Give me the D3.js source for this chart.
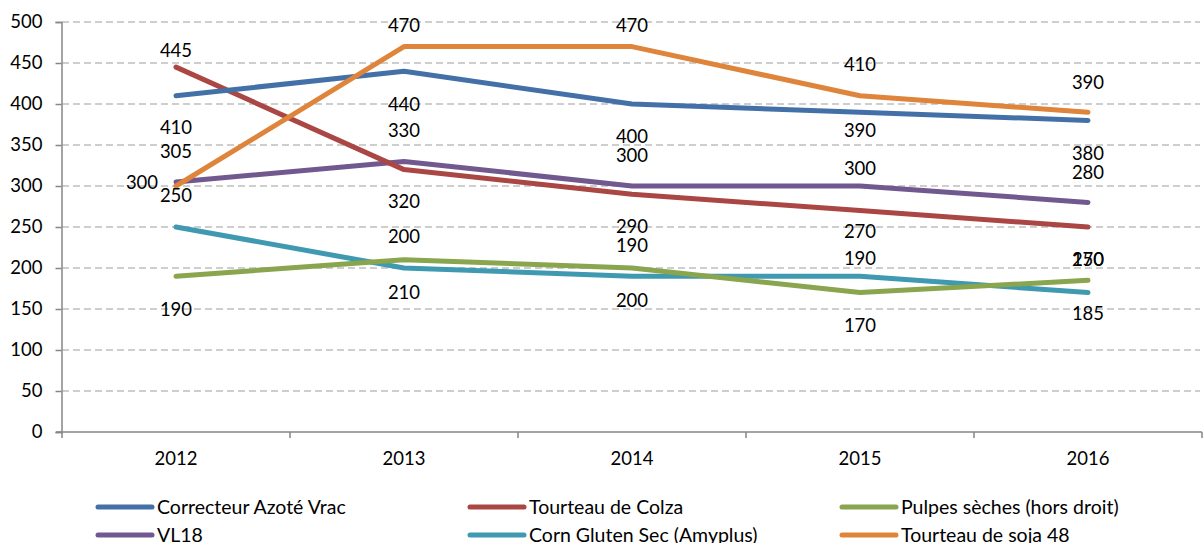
<!DOCTYPE html>
<html>
<head>
<meta charset="utf-8">
<script src="https://cdn.jsdelivr.net/npm/d3@7"></script>
<style>
  html, body { margin: 0; padding: 0; background: #fff; }
  svg { display: block; }
  text { font-family: Lato, "Open Sans", sans-serif; fill: #000; }
</style>
</head>
<body>
<svg id="chart" width="1204" height="543"></svg>
<script>
// Years on the horizontal axis
const years = ["2012", "2013", "2014", "2015", "2016"];

// Price series (one array per product)
const correcteurAzote = [410, 440, 400, 390, 380];
const tourteauColza   = [445, 320, 290, 270, 250];
const pulpesSeches    = [190, 210, 200, 170, 185];
const vl18            = [305, 330, 300, 300, 280];
const cornGluten      = [250, 200, 190, 190, 170];
const tourteauSoja    = [300, 470, 470, 410, 390];

// Y-axis tick values
const yTicks = [0, 50, 100, 150, 200, 250, 300, 350, 400, 450, 500];

// Label placement per point: vertical offset (px) from the point, and horizontal shift
const labelDy = {
  correcteur: [32, 33, 33, 18, 33],
  colza:      [-17, 32, 32, 21, 33],
  pulpes:     [33, 33, 33, 33, 33],
  vl18:       [-30, -31, -30, -17, -30],
  corn:       [-31, -31, -31, -18, -33],
  soja:       [-3, -21, -21, -31, -30]
};
const labelDx = { soja: [-34, 0, 0, 0, 0] };

const series = [
  { key: "correcteur", name: "Correcteur Azoté Vrac",       values: correcteurAzote, color: "#4470A8" },
  { key: "colza",      name: "Tourteau de Colza",           values: tourteauColza,   color: "#AA4643" },
  { key: "pulpes",     name: "Pulpes sèches (hors droit)",  values: pulpesSeches,    color: "#89A54E" },
  { key: "vl18",       name: "VL18",                        values: vl18,            color: "#71588F" },
  { key: "corn",       name: "Corn Gluten Sec (Amyplus)",   values: cornGluten,      color: "#3F99B1" },
  { key: "soja",       name: "Tourteau de soja 48",         values: tourteauSoja,    color: "#DF843B" }
];

// Draw order (later on top)
const drawOrder = ["corn", "pulpes", "vl18", "colza", "correcteur", "soja"];

const svg = d3.select("#chart");
const margin = { left: 62, right: 1202, top: 22, bottom: 432 };

const x = d3.scaleBand().domain(years).range([margin.left, margin.right]).padding(0);
const y = d3.scaleLinear().domain([0, 500]).range([margin.bottom, margin.top]);
const cx = d => x(d) + x.bandwidth() / 2;

// Horizontal dashed gridlines
svg.append("g")
  .selectAll("line")
  .data(yTicks.filter(v => v > 0))
  .join("line")
  .attr("x1", margin.left).attr("x2", 1200)
  .attr("y1", d => y(d)).attr("y2", d => y(d))
  .attr("stroke", "#BFBFBF").attr("stroke-width", 1.3)
  .attr("stroke-dasharray", "7,4");

// Y axis
const yAxis = svg.append("g")
  .attr("transform", `translate(${margin.left - 0.5},0)`)
  .call(d3.axisLeft(y).tickValues(yTicks).tickSize(6).tickPadding(13).tickFormat(d3.format("d")));
yAxis.select(".domain").attr("stroke", "#868686").attr("stroke-width", 1.5);
yAxis.selectAll(".tick line").attr("stroke", "#868686").attr("stroke-width", 1.5);
yAxis.selectAll(".tick text").attr("font-size", 18.5).style("font-family", "Lato, sans-serif");

// X axis with ticks at band boundaries
const xg = svg.append("g").attr("transform", `translate(0,${margin.bottom})`);
xg.append("line")
  .attr("x1", margin.left - 6).attr("x2", margin.right)
  .attr("stroke", "#868686").attr("stroke-width", 1.5);
const boundaries = years.map(d => x(d)).concat([x(years[years.length - 1]) + x.bandwidth()]);
xg.selectAll("line.tk")
  .data(boundaries)
  .join("line")
  .attr("class", "tk")
  .attr("x1", d => d).attr("x2", d => d)
  .attr("y1", 0).attr("y2", 6)
  .attr("stroke", "#868686").attr("stroke-width", 1.5);
xg.selectAll("text")
  .data(years)
  .join("text")
  .attr("x", d => cx(d))
  .attr("y", 33)
  .attr("text-anchor", "middle")
  .attr("font-size", 18.5)
  .text(d => d);

// Lines
const line = d3.line().x((d, i) => cx(years[i])).y(d => y(d));
const byKey = Object.fromEntries(series.map(s => [s.key, s]));
svg.append("g")
  .selectAll("path")
  .data(drawOrder.map(k => byKey[k]))
  .join("path")
  .attr("d", s => line(s.values))
  .attr("fill", "none")
  .attr("stroke", s => s.color)
  .attr("stroke-width", 5)
  .attr("stroke-linecap", "round")
  .attr("stroke-linejoin", "round");

// Data labels
const labels = [];
series.forEach(s => s.values.forEach((v, i) => {
  labels.push({
    v,
    x: cx(years[i]) + ((labelDx[s.key] || [])[i] || 0),
    y: y(v) + labelDy[s.key][i]
  });
}));
svg.append("g")
  .selectAll("text")
  .data(labels)
  .join("text")
  .attr("x", d => d.x)
  .attr("y", d => d.y)
  .attr("dy", "0.35em")
  .attr("text-anchor", "middle")
  .attr("font-size", 18.5)
  .text(d => d.v);

// Legend: 3 columns x 2 rows
const legendCols = [98, 470, 842];
const legendRows = [507, 535];
const lg = svg.append("g")
  .selectAll("g")
  .data(series)
  .join("g")
  .attr("transform", (d, i) => `translate(${legendCols[i % 3]},${legendRows[Math.floor(i / 3)]})`);
lg.append("line")
  .attr("x1", 0).attr("x2", 54)
  .attr("stroke", d => d.color)
  .attr("stroke-width", 5)
  .attr("stroke-linecap", "round");
lg.append("text")
  .attr("x", 59)
  .attr("dy", "0.35em")
  .attr("font-size", 19.5)
  .text(d => d.name);
</script>
</body>
</html>
